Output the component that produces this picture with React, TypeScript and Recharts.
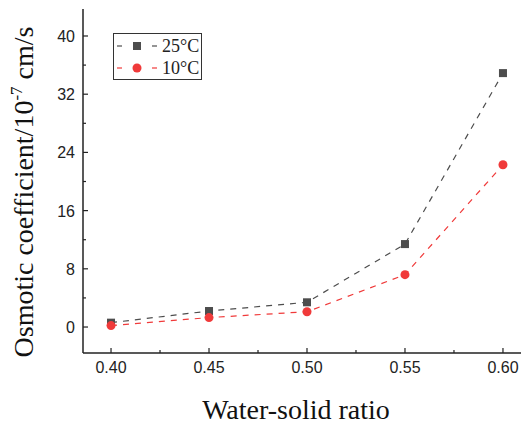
import { LineChart, Line, XAxis, YAxis } from 'recharts';

const ratios = [0.4, 0.45, 0.5, 0.55, 0.6];
const temp25 = [0.6, 2.2, 3.4, 11.4, 34.9];
const temp10 = [0.2, 1.3, 2.1, 7.2, 22.3];

const xTicks = [0.4, 0.425, 0.45, 0.475, 0.5, 0.525, 0.55, 0.575, 0.6];
const xMajor = ['0.40', '0.45', '0.50', '0.55', '0.60'];
const yTicks = [0, 4, 8, 12, 16, 20, 24, 28, 32, 36, 40];
const yMajor = [0, 8, 16, 24, 32, 40];

const GREY = '#4d4d4d';
const RED = '#f03a3a';

const data = ratios.map((r, i) => ({ ratio: r, t25: temp25[i], t10: temp10[i] }));

const XTick = (props: any) => {
  const { x, y, payload } = props;
  const label = payload.value.toFixed(2);
  const major = xMajor.includes(label);
  return (
    <g>
      <line x1={x} x2={x} y1={y} y2={y - (major ? 5 : 3)} stroke="#222" strokeWidth={1.2} />
      {major && (
        <text x={x} y={y + 20} textAnchor="middle" fontSize={16} fill="#222" fontFamily="'Liberation Sans', Arial, sans-serif">
          {label}
        </text>
      )}
    </g>
  );
};

const YTick = (props: any) => {
  const { x, y, payload } = props;
  const major = yMajor.includes(payload.value);
  const ax = x + 8;
  return (
    <g>
      <line x1={ax} x2={ax + (major ? 5 : 3)} y1={y} y2={y} stroke="#222" strokeWidth={1.2} />
      {major && (
        <text x={ax - 8} y={y + 6} textAnchor="end" fontSize={16} fill="#222" fontFamily="'Liberation Sans', Arial, sans-serif">
          {payload.value}
        </text>
      )}
    </g>
  );
};

const legendRows = [
  { name: '25°C', color: GREY, shape: 'square' },
  { name: '10°C', color: RED, shape: 'circle' },
];

const LegendBox = () => (
  <div
    style={{
      position: 'absolute',
      left: 113,
      top: 33,
      width: 89,
      height: 47,
      boxSizing: 'border-box',
      border: '1.5px solid #333',
      background: '#fff',
      fontFamily: "'Liberation Serif', 'Times New Roman', serif",
      fontSize: 18,
      color: '#222',
    }}
  >
    {legendRows.map((row) => (
      <div key={row.name} style={{ display: 'flex', alignItems: 'center', height: 20, marginTop: 2 }}>
        <svg width={48} height={20} style={{ flex: 'none' }}>
          <line x1={3} x2={8} y1={10} y2={10} stroke={row.color} strokeWidth={1.2} />
          <line x1={38} x2={43} y1={10} y2={10} stroke={row.color} strokeWidth={1.2} />
          {row.shape === 'square' ? (
            <rect x={19} y={6} width={8} height={8} fill={row.color} />
          ) : (
            <circle cx={23} cy={10} r={4.5} fill={row.color} />
          )}
        </svg>
        <span style={{ lineHeight: '20px' }}>{row.name}</span>
      </div>
    ))}
  </div>
);

export default function App() {
  return (
    <div style={{ position: 'fixed', left: 0, top: 0, width: 521, height: 426, background: '#fff' }}>
      <LineChart width={521} height={426} data={data} margin={{ top: 9, right: 0, bottom: 0, left: 0 }}>
        <XAxis
          dataKey="ratio"
          type="number"
          domain={[0.3857, 0.6092]}
          allowDataOverflow
          ticks={xTicks}
          tick={<XTick />}
          tickSize={0}
          tickMargin={0}
          height={73}
          axisLine={{ stroke: '#222', strokeWidth: 1.5 }}
          label={{
            content: () => (
              <text x={296} y={419} textAnchor="middle" fontSize={28} fill="#111" fontFamily="'Liberation Serif', 'Times New Roman', serif">
                Water-solid ratio
              </text>
            ),
          }}
        />
        <XAxis
          xAxisId="top"
          dataKey="ratio"
          type="number"
          orientation="top"
          domain={[0.3857, 0.6092]}
          allowDataOverflow
          height={0}
          tick={false}
          tickLine={false}
          axisLine={{ stroke: '#333', strokeWidth: 1.5 }}
        />
        <YAxis
          type="number"
          domain={[-3.57, 43.71]}
          allowDataOverflow
          ticks={yTicks}
          tick={<YTick />}
          tickSize={0}
          tickMargin={8}
          width={83}
          axisLine={{ stroke: '#222', strokeWidth: 1.5 }}
          label={{
            content: () => (
              <text
                transform="translate(33,192) rotate(-90)"
                textAnchor="middle"
                fontSize={28}
                fill="#111"
                fontFamily="'Liberation Serif', 'Times New Roman', serif"
              >
                Osmotic coefficient/10
                <tspan fontSize={17} dy={-11}>-7</tspan>
                <tspan dy={11}> cm/s</tspan>
              </text>
            ),
          }}
        />
        <Line
          dataKey="t25"
          name="25°C"
          stroke={GREY}
          strokeWidth={1.2}
          strokeDasharray="6 6"
          isAnimationActive={false}
          dot={(p: any) => <rect key={p.index} x={p.cx - 4} y={p.cy - 4} width={8} height={8} fill={GREY} />}
        />
        <Line
          dataKey="t10"
          name="10°C"
          stroke={RED}
          strokeWidth={1.2}
          strokeDasharray="6 6"
          isAnimationActive={false}
          dot={(p: any) => <circle key={p.index} cx={p.cx} cy={p.cy} r={4.5} fill={RED} />}
        />
      </LineChart>
      <LegendBox />
    </div>
  );
}
